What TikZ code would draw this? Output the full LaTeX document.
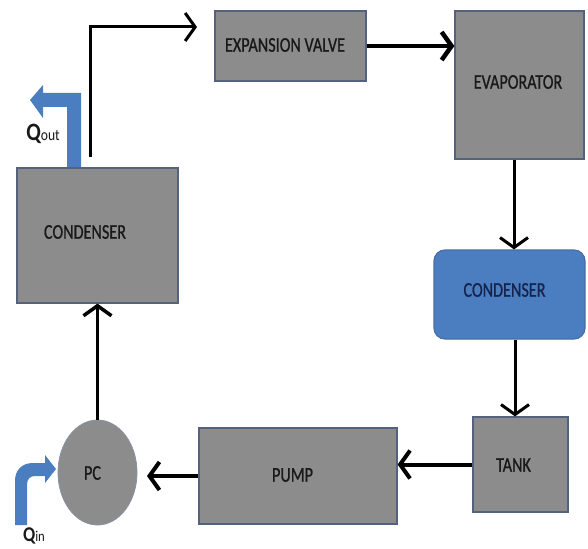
\documentclass[tikz,border=0pt]{standalone}
\usepackage{fontspec}
\setmainfont{Carlito}
\newfontfamily\cf[FakeStretch=0.77,FakeBold=0.8]{Carlito}
\newfontfamily\cq[FakeStretch=0.85]{Carlito}
\usetikzlibrary{arrows.meta,shapes.geometric}
\definecolor{boxgray}{RGB}{140,140,140}
\definecolor{boxedge}{RGB}{85,98,125}
\definecolor{qblue}{RGB}{74,126,193}
\definecolor{blueedge}{RGB}{70,110,165}
\definecolor{navy}{RGB}{22,36,75}
\begin{document}
\begin{tikzpicture}[x=1pt,y=-1pt,
  graybox/.style={draw=boxedge,line width=1.2pt,fill=boxgray,inner sep=0pt},
  lbl/.style={font=\cf\fontsize{21}{21}\selectfont,text=black!90,inner sep=0pt},
  flow/.style={line width=3.5pt,-{Straight Barb[length=10pt,width=28pt]}},
  heat/.style={fill=qblue,draw=none}
]
\path[use as bounding box] (0,0) rectangle (588,548);

% boxes
\node[graybox,minimum width=151pt,minimum height=70pt] (ev) at (290.5,46) {};
\node[graybox,minimum width=129pt,minimum height=148pt] (evap) at (519.5,85) {};
\node[graybox,minimum width=161pt,minimum height=135pt] (condL) at (97.5,235.5) {};
\node[draw=blueedge,line width=1.2pt,fill=qblue,rounded corners=11pt,minimum width=151pt,minimum height=89pt,inner sep=0pt] (condB) at (509.5,294.5) {};
\node[graybox,minimum width=95pt,minimum height=95pt] (tank) at (520.5,464.5) {};
\node[graybox,minimum width=198pt,minimum height=96pt] (pump) at (298,476) {};
\node[ellipse,draw=boxedge!70,line width=0.8pt,fill=boxgray,minimum width=79pt,minimum height=105pt,inner sep=0pt] (pc) at (97.5,472.5) {};

% labels
\node[lbl] (evT) at (285,45) {EXPANSION VALVE};
\node[lbl] (evapT) at (518,82) {EVAPORATOR};
\node[lbl] (condLT) at (85,232) {CONDENSER};
\node[lbl,text=navy] (condBT) at (504.5,290) {CONDENSER};
\node[lbl] (pumpT) at (292.5,475) {PUMP};
\node[lbl] (tankT) at (513.5,465) {TANK};
\node[lbl] (pcT) at (92.5,473) {PC};

% connectors
\coordinate (outA) at (90,157);
\coordinate (outB) at (197,27);
\coordinate (pcin) at (147,476);
\draw[flow,line width=3pt] (outA) |- (outB);
\draw[flow,line width=4.5pt] (ev.east) -- (ev.east -| evap.west);
\draw[flow,line width=3pt] ([xshift=-5.5pt]evap.south) -- ([xshift=-5.5pt]evap.south |- condB.north);
\draw[flow,line width=3pt] ([xshift=5.5pt]condB.south) -- ([xshift=5.5pt]condB.south |- tank.north);
\draw[flow,line width=4pt] (tank.west) -- (tank.west -| pump.east);
\draw[flow,line width=4pt] (pump.west) -- (pcin);
\draw[flow,line width=3.5pt] (pc.north) -- (condL.south);

% heat arrows
\fill[heat] (67,167) -- (67,107) -- (43,107) -- (43,118) -- (30,100) -- (43,85) -- (43,93) -- (81,93) -- (81,167) -- cycle;
\fill[heat] (15,525) -- (15,481) .. controls (15,470) and (22,463) .. (33,463) -- (45,463) -- (45,455) -- (56,469) -- (45,483) -- (45,476) -- (35,476) .. controls (30,476) and (27,479) .. (27,485) -- (27,525) -- cycle;
\node[inner sep=0pt,text=black!90] (qout) at (43,134) {\cq\fontsize{25}{25}\selectfont\bfseries Q\fontsize{16}{16}\mdseries out};
\node[inner sep=0pt,text=black!90] (qin) at (34,536) {\cq\fontsize{21}{21}\selectfont\bfseries Q\fontsize{15}{15}\mdseries in};
\end{tikzpicture}
\end{document}
